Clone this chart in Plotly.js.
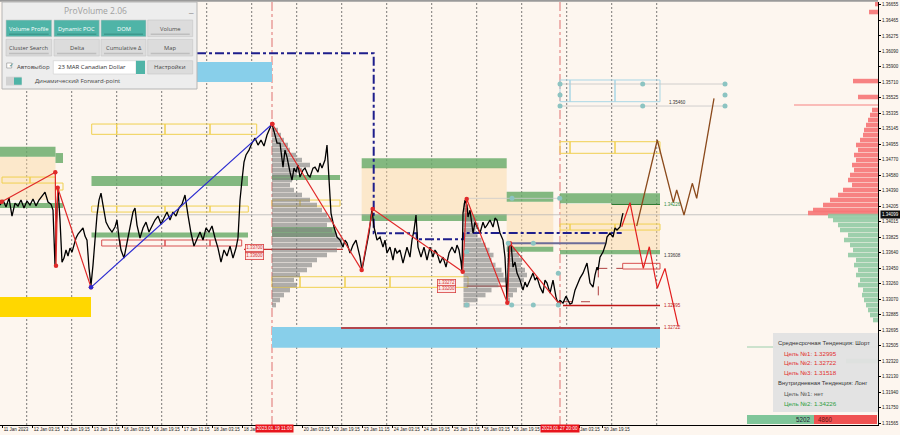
<!DOCTYPE html>
<html><head><meta charset="utf-8">
<script src="https://cdn.plot.ly/plotly-3.0.1.min.js"></script>
<style>html,body{margin:0;padding:0;background:#fdf6ef}#chart{width:900px;height:435px}</style>
</head><body><div id="chart"></div><script>
// ---------------- DATA ----------------
const barIdx = [
0,3,6,9,12,15,18,21,24,27,
30,33,36,39,42,45,48,51,53,55,
56,58,60,62,64,66,68,70,72,74,
76,78,80,83,85,87,89,91,93,95,
97,99,101,103,106,109,112,115,117,119,
121,124,127,130,133,135,137,140,143,146,
149,152,155,158,161,164,167,170,173,176,
179,182,185,188,191,194,197,200,203,206,
209,212,215,218,221,224,227,230,233,236,
238,240,242,244,246,249,252,255,258,261,
264,267,270,272,275,277,280,283,285,287,
290,292,294,296,298,300,303,305,308,310,
313,315,318,320,322,325,327,328,329,331,
334,337,340,343,345,347,350,353,356,358,
360,362,365,367,369,372,374,377,380,383,
385,387,390,393,395,397,400,403,405,407,
410,412,414,416,418,421,424,427,430,433,
435,437,440,443,446,449,452,455,457,459,
461,462,463,465,467,468,470,473,475,477,
480,483,485,487,490,493,495,497,500,503,
505,507,508,509,511,513,515,517,520,523,
525,527,530,533,535,537,540,543,545,547,
550,553,556,558,560,563,566,568,570,572,
575,578,580,583,585,587,590,593,595,597,
598,600,603,606,607,610,613,615,617,620,
622,623];
const closePrice = [
1.34217,1.34278,1.34193,1.34302,1.34083,1.34241,1.34205,1.34278,1.34181,1.34266,
1.34217,1.34290,1.34205,1.34278,1.34327,1.34375,1.34254,1.34229,1.34156,1.33487,
1.33913,1.34424,1.34035,1.33523,1.33572,1.33670,1.33597,1.33694,1.33645,1.33743,
1.33816,1.33864,1.33889,1.33938,1.33840,1.33791,1.33450,1.33243,1.33487,1.33791,
1.34095,1.34278,1.34363,1.34217,1.34010,1.33938,1.33889,1.33950,1.34035,1.33816,
1.33670,1.33572,1.33755,1.33913,1.34132,1.34181,1.33974,1.33816,1.33938,1.34010,
1.33889,1.33962,1.34035,1.34083,1.33986,1.34059,1.34132,1.34035,1.34132,1.34083,
1.34181,1.34229,1.34339,1.34095,1.33877,1.33718,1.33816,1.33889,1.33791,1.33938,
1.33889,1.33962,1.33816,1.33694,1.33523,1.33670,1.33597,1.33718,1.33572,1.33694,
1.33816,1.34278,1.34521,1.34740,1.34826,1.34886,1.34972,1.35032,1.34947,1.35008,
1.34935,1.35069,1.35154,1.35203,1.35069,1.34972,1.34972,1.34679,1.34886,1.34801,
1.34619,1.34521,1.34667,1.34619,1.34704,1.34558,1.34643,1.34667,1.34582,1.34558,
1.34667,1.34679,1.34619,1.34728,1.34667,1.34765,1.34947,1.34704,1.34436,1.34120,
1.33950,1.33828,1.33791,1.33706,1.33791,1.33755,1.33633,1.33730,1.33791,1.33694,
1.33584,1.33426,1.33633,1.33730,1.33877,1.34168,1.33950,1.33791,1.33828,1.33706,
1.33791,1.33633,1.33706,1.33548,1.33694,1.33633,1.33670,1.33511,1.33609,1.33706,
1.33584,1.33791,1.33913,1.34095,1.33706,1.33584,1.33706,1.33548,1.33706,1.33584,
1.33670,1.33633,1.33511,1.33584,1.33462,1.33633,1.33706,1.33633,1.33730,1.33670,
1.33523,1.33414,1.34120,1.34278,1.34217,1.34071,1.34156,1.33877,1.34010,1.33950,
1.33877,1.34010,1.33938,1.33974,1.34035,1.33950,1.34059,1.34035,1.33877,1.33791,
1.33584,1.33060,1.33304,1.33706,1.33755,1.33462,1.33523,1.33389,1.33304,1.33182,
1.33280,1.33219,1.33304,1.33389,1.33304,1.33341,1.33219,1.33146,1.33304,1.33268,
1.33146,1.33304,1.33097,1.33024,1.33060,1.33024,1.33109,1.33060,1.33011,1.33024,
1.33182,1.33268,1.33328,1.33389,1.33450,1.33511,1.33268,1.33219,1.33365,1.33462,
1.33426,1.33584,1.33645,1.33755,1.33828,1.33877,1.33828,1.33938,1.33913,1.33950,
1.34071,1.34120];

const currentPrice = 1.34099;

// zigzag legs
const zzLeftX = [1.7,55.3,56,57.7,91];
const zzLeftY = [1.34258,1.34616,1.33479,1.34428,1.33216];
const zzUpX = [91,272.3];
const zzUpY = [1.33216,1.35203];
const zzMidX = [272.3,361.7,372.7,462.7,466.7,507.3,510,559];
const zzMidY = [1.35203,1.33426,1.34169,1.33406,1.34291,1.33029,1.33752,1.33019];
// forecasts
const fcRedX = [621.7,630,643.3,649.3,657.3,665,678.3];
const fcRedY = [1.33953,1.34246,1.33447,1.33710,1.33204,1.33447,1.32737];
const fcBrownX = [636.7,657.3,673.3,676.7,684,692.3,696.7,714];
const fcBrownY = [1.33962,1.35009,1.34246,1.34400,1.34096,1.34482,1.34299,1.35516];
// forward-point dash-dot
const navyX = [197,373.7,373.7,416.7,416.7,463.3,463.3,621.7];
const navyY = [1.36063,1.36063,1.33873,1.33873,1.33800,1.33800,1.33877,1.33877];
const slateX = [508.3,605];
const slateY = [1.33752,1.33752];

// session volume profiles (gray)
const prof1Levels = [1.35130,1.35069,1.35008,1.34948,1.34887,1.34826,1.34765,1.34704,1.34643,1.34583,
1.34522,1.34461,1.34400,1.34340,1.34278,1.34217,1.34156,1.34095,1.34035,1.33974,
1.33913,1.33853,1.33792,1.33731,1.33670,1.33609,1.33548,1.33487,1.33427,1.33366,
1.33305,1.33244,1.33183,1.33122,1.33062,1.33000];
const prof1Vol = [6,9,12,16,18,24,30,38,30,25,20,18,22,30,38,45,50,55,60,55,60,65,70,72,65,55,45,40,35,28,22,25,18,12,8,4];
const prof2Levels = [1.34217,1.34156,1.34095,1.34035,1.33974,1.33913,1.33853,1.33792,1.33731,1.33670,1.33609,
1.33548,1.33487,1.33427,1.33366,1.33305,1.33244,1.33183,1.33122,1.33062,1.33000];
const prof2Vol = [3,5,8,12,15,12,14,18,22,26,30,28,32,38,40,43,35,28,22,14,6];
const prof3Levels = [1.33731,1.33670,1.33609,1.33548,1.33487,1.33427,1.33366,1.33305,1.33244,1.33183,1.33122,1.33062];
const prof3Vol = [4,8,12,15,14,18,20,17,14,10,6,3];

// market profile (right side)
const askLevels = [1.36663,1.36566,1.35726,1.35532,1.35434,1.35374,1.35313,1.35252,1.35191,1.35130,1.35069,1.35008,
1.34948,1.34887,1.34826,1.34765,1.34704,1.34643,1.34583,1.34522,1.34461,1.34400,1.34340,1.34278,1.34217,1.34156,1.34120];
const askVol = [3,9,25,20,84,6,8,10,12,14,15,18,22,20,24,22,26,24,28,30,26,35,40,48,55,65,70];
const bidLevels = [1.34084,1.34035,1.33974,1.33913,1.33853,1.33792,1.33731,1.33670,1.33609,1.33548,1.33487,1.33427,
1.33366,1.33305,1.33244,1.33183,1.33122,1.33062,1.33000,1.32940,1.32879,1.32818,1.32490,1.32319];
const bidVol = [50,45,40,38,30,34,28,25,30,22,24,20,22,18,20,15,16,14,12,10,8,5,131,32];

// axis labels (labels hidden under the red time stamps are shown as in the terminal)
const priceTicks = [1.36655,1.36465,1.36275,1.36090,1.35900,1.35710,1.35525,1.35335,1.35145,1.34955,1.34770,1.34580,1.34390,1.34205,
1.34015,1.33825,1.33640,1.33450,1.33260,1.33070,1.32885,1.32695,1.32505,1.32320,1.32130,1.31940,1.31750,1.31565];
const timeLabels = ['11 Jan 2023','12 Jan 03:15','12 Jan 19:15','13 Jan 11:15','16 Jan 03:15','16 Jan 19:15','17 Jan 11:15',
'18 Jan 03:15','18 Jan','','20 Jan 03:15','20 Jan 19:15','23 Jan 11:15','24 Jan 03:15','24 Jan 19:15',
'25 Jan 11:15','26 Jan 03:15','26 Jan 19:15','','Jan 03:15','30 Jan 19:15'];
const timeTickIdx = timeLabels.map((_, i) => 2.7 + 30 * i);
timeTickIdx[19] = 579;
const gridIdx = [26.7,71.7,116.7,161.7,206.7,251.7,296.7,341.7,386.7,431.7,476.7,521.7,566.7,611.7,656.7];

const infoLines = [
 ['Среднесрочная Тенденция: Шорт', '#333333', 0],
 ['Цель №1: 1.32995', '#e23030', 1],
 ['Цель №2: 1.32722', '#e23030', 1],
 ['Цель №3: 1.31518', '#e23030', 1],
 ['Внутридневная Тенденция: Лонг', '#333333', 0],
 ['Цель №1: нет', '#555555', 1],
 ['Цель №2: 1.34226', '#2f9e44', 1]
];
const deltaBuy = 5202, deltaSell = 4860;

// ---------------- HELPERS ----------------
const PLOT_W = 878, PLOT_TOP = 2, PLOT_BOT = 425;
const PX = x => x / PLOT_W;
const PY = y => (PLOT_BOT - y) / (PLOT_BOT - PLOT_TOP);
const shapes = [], ann = [];
const PEACH = 'rgba(250,215,160,0.45)', GREEN = 'rgba(104,170,104,0.82)', SKY = '#88cfea', GOLD = '#ffd700';
const YEL = '#f0d050', REDL = '#d85050', LBLUE = '#a9d7e6';
function zone(x0,x1,y0,y1,fill){shapes.push({type:'rect',xref:'x',yref:'y',x0,x1,y0,y1,fillcolor:fill,line:{width:0},layer:'below'});}
function boxes(edges,y0,y1,color){for(let i=0;i<edges.length-1;i++)shapes.push({type:'rect',xref:'x',yref:'y',x0:edges[i],x1:edges[i+1],y0,y1,fillcolor:'rgba(0,0,0,0)',line:{color,width:1},layer:'below'});}
function hline(x0,x1,y,color,width,dash){shapes.push({type:'line',xref:'x',yref:'y',x0,x1,y0:y,y1:y,line:{color,width,dash:dash||'solid'},layer:'below'});}
function seg(x0,y0,x1,y1,color,width,dash){shapes.push({type:'line',xref:'x',yref:'y',x0,x1,y0,y1,line:{color,width,dash:dash||'solid'},layer:'below'});}
function prect(x0,x1,y0,y1,fill,line){shapes.push({type:'rect',xref:'paper',yref:'paper',x0:PX(x0),x1:PX(x1),y0:PY(y1),y1:PY(y0),fillcolor:fill,line:line||{width:0},layer:'above'});}
function ptext(x,y,text,size,color,anchor,family){ann.push({xref:'paper',yref:'paper',x:PX(x),y:PY(y),text,showarrow:false,xanchor:anchor||'left',yanchor:'middle',font:{size,color,family:family||'Liberation Sans'}});}

// grid & session separators
gridIdx.forEach(x => shapes.push({type:'line',xref:'x',yref:'paper',x0:x,x1:x,y0:0,y1:1,line:{color:'#444',width:0.7,dash:'2px,2px'},layer:'below'}));
[272,560].forEach(x => shapes.push({type:'line',xref:'x',yref:'paper',x0:x,x1:x,y0:0,y1:1,line:{color:'rgba(215,80,80,0.8)',width:1,dash:'dashdot'},layer:'below'}));
shapes.push({type:'line',xref:'paper',yref:'paper',x0:0,x1:1,y0:PY(0.8),y1:PY(0.8),line:{color:'#9a9a9a',width:2}});

// zones
zone(0,55.5,1.34805,1.34278,PEACH);
zone(361.7,506.7,1.34684,1.34084,PEACH);
zone(506.7,553.3,1.34258,1.33710,PEACH);
zone(560,660,1.34230,1.33670,PEACH);
zone(0,55.5,1.34927,1.34805,GREEN);
zone(55.5,63,1.34850,1.34729,GREEN);
zone(0,63,1.34242,1.34181,GREEN);
zone(91.5,248,1.34570,1.34449,GREEN);
zone(91.5,248,1.33883,1.33822,GREEN);
zone(361.7,506.7,1.34786,1.34664,GREEN);
zone(361.7,506.7,1.34108,1.34023,GREEN);
zone(506.7,553.3,1.34379,1.34258,GREEN);
zone(506.7,553.3,1.33710,1.33649,GREEN);
zone(560,660,1.34360,1.34238,GREEN);
zone(560,660,1.33670,1.33618,GREEN);
zone(272,340,1.34583,1.34522,GREEN);
zone(272,335,1.33950,1.33828,GREEN);
zone(197,272,1.35958,1.35714,SKY);
zone(272,660,1.32733,1.32481,SKY);
zone(0,91,1.33098,1.32855,GOLD);

boxes([2,30,55.5],1.34558,1.34485,YEL);
boxes([55.5,63],1.34485,1.34400,YEL);
boxes([91.7,116.7,165,210,256.7],1.35203,1.35078,YEL);
boxes([91.7,116.7,165,210,248.3],1.34205,1.34132,YEL);
boxes([101.7,120,165,210,241.7],1.33792,1.33719,REDL);
boxes([272,300,340],1.34278,1.34205,YEL);
boxes([272,300,345,390,468],1.33345,1.33216,YEL);
boxes([560,570,615,660],1.34988,1.34847,YEL);
boxes([560,570,615,660],1.33986,1.33913,YEL);
boxes([560,570,615,660],1.35739,1.35475,LBLUE);
boxes([622.7,660],1.33508,1.33439,REDL);

hline(0,878,currentPrice,'#b8b8b8',0.8);
hline(560,725,1.35690,'#c4c4c4',0.8);
hline(560,725,1.35422,'#c4c4c4',0.8);
hline(466.7,560,1.34299,'#cccccc',0.8);
hline(466.7,560,1.33001,'#cccccc',0.8);
hline(244,343,1.33679,'#c83030',1.2);
hline(466.7,506.7,1.33232,'#c83030',1.2);
hline(563,660,1.32995,'#c01818',1.5);
hline(341,660,1.32722,'#c01818',1.5);
hline(611.7,660,1.34226,'#2e7d32',1.5);
seg(598.3,1.33447,622.7,1.33447,'#b04040',1,'dash');
seg(598.3,1.33447,598.3,1.33041,'#b04040',1,'dash');
seg(563,1.33041,598.3,1.33041,'#b04040',1,'dash');

// level labels
[[662,1.34226,'1.34226','#2e8b3e'],[662,1.33608,'1.33608','#333'],[662,1.32995,'1.32995','#c01818'],[662,1.32722,'1.32722','#c01818'],[667,1.35460,'1.35460','#333']]
 .forEach(a => ann.push({x:a[0],y:a[1],xref:'x',yref:'y',text:a[2],showarrow:false,xanchor:'left',yanchor:'middle',font:{size:4.5,color:a[3],family:'Liberation Sans'}}));
[[254,1.33700,'1.33700'],[254,1.33597,'1.33600'],[446,1.33268,'1.33272'],[446,1.33195,'1.33200']]
 .forEach(a => ann.push({x:a[0],y:a[1],xref:'x',yref:'y',text:a[2],showarrow:false,xanchor:'center',yanchor:'middle',bgcolor:'#fde9e6',bordercolor:'#d84040',borderwidth:0.8,borderpad:0.5,font:{size:4.5,color:'#d03030',family:'Liberation Sans'}}));

// current price label
ann.push({xref:'paper',yref:'y',x:1.002,y:currentPrice,text:'1.34099',showarrow:false,xanchor:'left',yanchor:'middle',bgcolor:'#111',borderpad:1,font:{size:4.5,color:'#fff',family:'Liberation Sans'}});
// red time stamps on axis
[[274,'2023.01.19 11:00'],[560,'2023.01.27 20:00']].forEach(a => ann.push({xref:'x',yref:'paper',x:a[0],y:PY(428.5),text:a[1],showarrow:false,xanchor:'center',yanchor:'middle',bgcolor:'#e8141c',borderpad:0.8,font:{size:4.6,color:'#fff',family:'Liberation Sans'}}));

// info box
prect(773,878,333,412,'rgba(226,226,226,0.95)');
const infoY = [342.7,353.3,362.7,372.7,383.3,393.3,403.3];
infoLines.forEach((l,i) => ptext(l[2] ? 782 : 775.5, infoY[i], l[0], l[2] ? 6.2 : 5.9, l[1]));
// delta bars
prect(747,814,415,424,'#80c69a');
prect(814,877,415,424,'#f05252');
ptext(813,419.5,String(deltaBuy),6.3,'#223','right');
ptext(816,419.5,String(deltaSell),6.3,'#611','left');

// ProVolume panel
prect(2,197,2,89,'#ededed',{color:'#b5b5b5',width:1});
ptext(95,10,'ProVolume 2.06',8.5,'#a0a0a0','center','Open Sans');
ptext(191,9,'_',8,'#777','center');
const TEAL = '#4fb4a7', BTN = '#dcdcdc';
const btns = [['Volume Profile',6,51.7,20,36.7,1],['Dynamic POC',54,99.3,20,36.7,1],['DOM',101,146,20,36.7,1],['Volume',147.7,192.7,20,36.7,0],
 ['Cluster Search',6,51.7,39.3,56,0],['Delta',54,99.3,39.3,56,0],['Cumulative Δ',101,146,39.3,56,0],['Map',147.7,192.7,39.3,56,0]];
btns.forEach(b => {
  prect(b[1],b[2],b[3],b[4],b[5]?TEAL:BTN,{color:'#c6c6c6',width:0.6});
  ptext((b[1]+b[2])/2,b[3]+8.8,b[0],5.8,b[5]?'#ffffff':'#4a4a4a','center','Open Sans');
  prect(b[1]+3,b[2]-3,b[4]-3.2,b[4]-1.8,b[5]?'rgba(40,120,110,0.45)':'rgba(160,160,160,0.5)');
});
prect(6.7,11.7,63,68,'#ffffff',{color:'#8a8a8a',width:0.6});
ptext(7.2,65.3,'✓',5.5,'#3a8a80','left');
ptext(14.5,66.5,'Автовыбор',6,'#444','left','Open Sans');
prect(53.3,136,60.7,74,'#ffffff',{color:'#cfcfcf',width:0.6});
prect(136,145,60.7,74,TEAL);
ptext(55.5,67.5,'23 MAR Canadian Dollar',6,'#333','left','Open Sans');
prect(147.7,192.7,60.7,74,BTN,{color:'#c6c6c6',width:0.6});
ptext(170.2,67.5,'Настройки',6,'#444','center','Open Sans');
prect(6,21.7,76.7,85.5,'#d2d2d2');
prect(14,21.7,77.5,84.7,TEAL);
ptext(32.5,81,'Динамический Forward-point',6,'#444','left','Open Sans');

// ---------------- TRACES ----------------
const hbar = (levels, vol, base, sign, color, w) => ({type:'bar',orientation:'h',y:levels,x:vol.map(v=>sign*v),base,width:w,marker:{color,line:{width:0}},hoverinfo:'skip',showlegend:false});
const traces = [
 hbar(prof1Levels, prof1Vol, 272, 1, 'rgba(128,128,128,0.62)', 0.00055),
 hbar(prof2Levels, prof2Vol, 463.5, 1, 'rgba(128,128,128,0.62)', 0.00055),
 hbar(prof3Levels, prof3Vol, 507, 1, 'rgba(128,128,128,0.62)', 0.00055),
 hbar(askLevels, askVol, 878, -1, 'rgba(246,118,118,0.9)', askVol.map(v=>v>80?0.00013:0.00055)),
 hbar(bidLevels, bidVol, 878, -1, 'rgba(140,200,160,0.85)', bidVol.map(v=>v>80?0.00013:0.00055)),
 {type:'scatter',mode:'lines',x:navyX,y:navyY,line:{color:'#1e1e8c',width:2,dash:'dashdot'},hoverinfo:'skip'},
 {type:'scatter',mode:'lines',x:slateX,y:slateY,line:{color:'#6c6c98',width:2},hoverinfo:'skip'},
 {type:'scatter',mode:'lines',x:barIdx,y:closePrice,line:{color:'#000',width:1.3},hoverinfo:'skip'},
 {type:'scatter',mode:'lines+markers',x:zzLeftX,y:zzLeftY,line:{color:'#e02a2a',width:1.2},marker:{color:'#e02a2a',size:4.5},hoverinfo:'skip'},
 {type:'scatter',mode:'lines+markers',x:zzUpX,y:zzUpY,line:{color:'#2a2ad0',width:1.2},marker:{color:['#2a2ad0','#e02a2a'],size:4.5},hoverinfo:'skip'},
 {type:'scatter',mode:'lines+markers',x:zzMidX,y:zzMidY,line:{color:'#e02a2a',width:1.2},marker:{color:'#e02a2a',size:4.5},hoverinfo:'skip'},
 {type:'scatter',mode:'lines',x:fcRedX,y:fcRedY,line:{color:'#e21e1e',width:1.2},hoverinfo:'skip'},
 {type:'scatter',mode:'lines',x:fcBrownX,y:fcBrownY,line:{color:'#8b4a1c',width:1.3},hoverinfo:'skip'},
 {type:'scatter',mode:'markers',x:[560,560,560,642.7,642.7,725,725,725,466.7,466.7,508.3,533.3,511.7,533.3,558.3,558.3,512,559.7],
  y:[1.35690,1.35556,1.35422,1.35690,1.35422,1.35690,1.35556,1.35422,1.33649,1.33001,1.33752,1.33752,1.33001,1.33001,1.33386,1.33001,1.34299,1.34299],
  marker:{color:'#8cc4c2',size:5},hoverinfo:'skip'}
];

const layout = {
  width:900, height:435, margin:{l:0,r:22,t:2,b:10},
  paper_bgcolor:'#fdf6ef', plot_bgcolor:'#fdf6ef',
  showlegend:false, barmode:'overlay', hovermode:false,
  xaxis:{range:[0,878],autorange:false,fixedrange:true,showgrid:false,zeroline:false,showline:true,linecolor:'#000',linewidth:1,
    ticks:'outside',ticklen:2,tickcolor:'#000',tickvals:timeTickIdx,ticktext:timeLabels,ticklabelposition:'outside right',
    tickangle:0,ticklabelstandoff:0,automargin:false,
    tickfont:{size:4.5,color:'#222',family:'Liberation Sans'}},
  yaxis:{range:[1.31541,1.36688],autorange:false,fixedrange:true,side:'right',showgrid:false,zeroline:false,showline:true,linecolor:'#000',linewidth:1,
    ticks:'outside',ticklen:2,tickcolor:'#000',tickvals:priceTicks,ticktext:priceTicks.map(v=>v.toFixed(5)),automargin:false,
    tickfont:{size:4.5,color:'#222',family:'Liberation Sans'}},
  shapes, annotations:ann
};
Plotly.newPlot('chart', traces, layout, {displayModeBar:false, staticPlot:true});
</script></body></html>
